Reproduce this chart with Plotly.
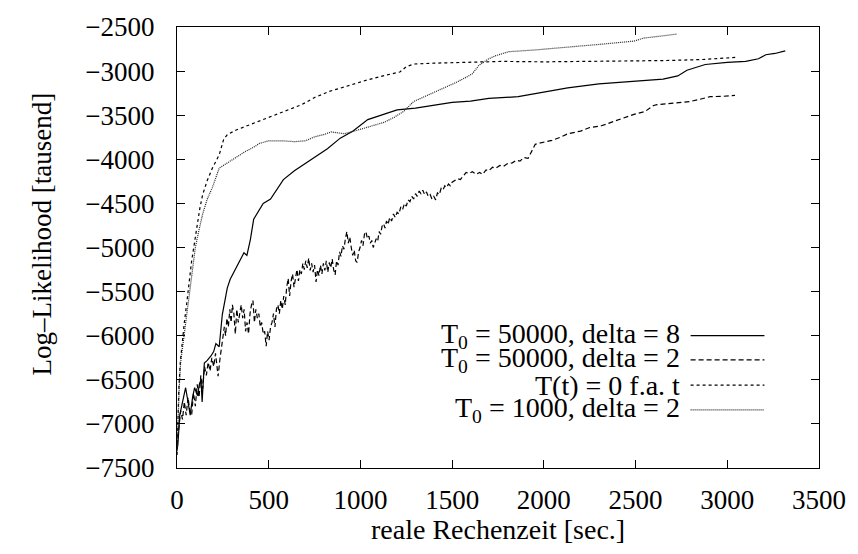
import plotly.graph_objects as go

# Simulated annealing runs: log-likelihood (thousands) over wall-clock time (s)
t_d8 = [0, 5, 15, 30, 47, 60, 72, 85, 96, 112, 122, 131, 137, 149, 165, 185, 200, 212, 230,
        247, 260, 274, 290, 311, 328, 347, 365, 381, 400, 418, 445, 470, 510, 540, 580, 640,
        700, 760, 820, 890, 960, 1040, 1110, 1200, 1300, 1400, 1500, 1600, 1700, 1860, 2000,
        2130, 2300, 2450, 2650, 2730, 2780, 2880, 3000, 3100, 3170, 3210, 3260, 3316]
ll_d8 = [-7300, -7230, -6900, -6750, -6590, -6750, -6900, -6700, -6590, -6680, -6550, -6500,
         -6750, -6310, -6280, -6230, -6180, -6090, -6125, -5760, -5600, -5460, -5360, -5280,
         -5200, -5130, -5060, -5090, -4910, -4680, -4580, -4500, -4450, -4350, -4230, -4130,
         -4050, -3960, -3880, -3760, -3680, -3550, -3500, -3440, -3420, -3390, -3355, -3340,
         -3310, -3290, -3240, -3190, -3145, -3120, -3090, -3055, -2990, -2925, -2900, -2890,
         -2860, -2815, -2800, -2770]

t_d2 = [0, 10, 20, 30, 40, 50, 60, 70, 80, 90, 100, 110, 120, 130, 140, 150, 160, 170, 180,
        190, 200, 210, 224, 235, 242,
        250, 258, 265, 272, 280, 288, 295, 302, 310, 318, 326, 334, 342, 350, 358, 366, 374,
        382, 390, 398, 406, 414, 422, 430, 438, 446, 454, 462, 470, 478, 486, 494, 502, 510,
        518, 526, 534, 542, 550, 558, 566, 574, 582, 590, 598, 606, 614, 622, 630, 638, 646,
        654, 662, 670, 678, 686, 694, 702, 710, 718, 726, 734, 742, 750, 758, 766, 774, 782,
        790, 798, 806, 814, 822, 830, 838, 846, 854, 862, 870, 878, 886, 894, 902, 910, 918,
        926, 934, 942, 950, 958, 966, 974, 982, 990, 998, 1006, 1014, 1022, 1030, 1038, 1046,
        1054, 1062, 1070, 1078, 1086, 1094, 1102, 1110, 1118, 1126, 1134, 1142, 1150, 1160,
        1170, 1180, 1190, 1200, 1210, 1220, 1230, 1240, 1250, 1260, 1270, 1280, 1290, 1300,
        1310, 1320, 1330, 1340, 1350, 1360, 1370, 1380, 1390, 1400, 1410, 1420, 1430, 1440,
        1450, 1460, 1470, 1480, 1490, 1500, 1515, 1530, 1545, 1560, 1576, 1592, 1610, 1630,
        1650, 1666, 1685, 1700, 1720, 1738, 1760, 1780, 1800, 1828, 1850, 1870, 1890, 1914,
        1935, 1953, 1990, 2044, 2090, 2131, 2200, 2250, 2314, 2400, 2491, 2550, 2598, 2617,
        2700, 2797, 2850, 2906, 2980, 3042]
ll_d2 = [-7250, -7000, -6850, -6950, -6750, -6900, -6700, -6850, -6900, -6650, -6800, -6550,
         -6700, -6450, -6600, -6350, -6450, -6300, -6400, -6250, -6350, -6200, -6460, -6250,
         -6150,
         -6050, -5900, -6000, -5800, -5900, -5700, -5850, -5650, -5750, -5980, -5700, -5850,
         -5750, -5650, -5800, -5700, -5950, -5850, -5980, -5750, -5650, -5600, -5850, -5700,
         -5800, -5750, -5900, -5850, -5980, -5950, -6120, -5950, -6050, -5900, -5850, -5750,
         -5900, -5700, -5650, -5750, -5600, -5700, -5550, -5650, -5450, -5350, -5550, -5380,
         -5300, -5450, -5350, -5250, -5380, -5250, -5300, -5180, -5250, -5150, -5230, -5120,
         -5260, -5180, -5280, -5200, -5390, -5250, -5320, -5200, -5300, -5180, -5260, -5150,
         -5280, -5170, -5230, -5130, -5250, -5310, -5150, -5200, -5050, -5100, -4980, -5020,
         -4900, -4820, -4950, -4880, -5000, -5090, -5030, -5150, -5170, -5050, -5000, -4920,
         -4980, -4850, -4820, -4900, -4870, -4950, -4920, -5000, -4950, -4900, -4930, -4820,
         -4850, -4760, -4730, -4780, -4700, -4740, -4660, -4700, -4620, -4660, -4600, -4620,
         -4540, -4570, -4500, -4530, -4460, -4480, -4420, -4450, -4390, -4420, -4360, -4390,
         -4350, -4400, -4370, -4420, -4400, -4450, -4420, -4460, -4380, -4400, -4330, -4350,
         -4300, -4320, -4280, -4300, -4260, -4240, -4220, -4230, -4190, -4150, -4160, -4140,
         -4170, -4150, -4170, -4120, -4130, -4090, -4100, -4070, -4080, -4050, -4040, -4010,
         -4020, -3980, -3990, -3900, -3830, -3810, -3785, -3750, -3710, -3680, -3640, -3620,
         -3560, -3490, -3460, -3390, -3380, -3360, -3345, -3320, -3290, -3285, -3275]

t_t0 = [0, 4, 10, 18, 28, 40, 52, 65, 80, 95, 110, 125, 140, 165, 193, 230, 255, 275, 320,
        408, 500, 590, 680, 750, 830, 912, 1037, 1130, 1215, 1250, 1290, 1400, 1576, 1775,
        2000, 2314, 2500, 2670, 2850, 2950, 3047]
ll_t0 = [-7350, -7000, -6600, -6300, -6050, -5850, -5650, -5400, -5150, -4950, -4720, -4550,
         -4400, -4240, -4100, -3950, -3770, -3720, -3670, -3600, -3520, -3450, -3380, -3300,
         -3230, -3180, -3100, -3050, -3010, -2950, -2920, -2910, -2900, -2890, -2895, -2890,
         -2885, -2880, -2870, -2855, -2845]

t_1000 = [0, 5, 12, 20, 32, 45, 60, 80, 100, 120, 140, 165, 193, 230, 274, 320, 374, 408,
          450, 500, 571, 643, 700, 751, 800, 840, 912, 967, 1020, 1075, 1130, 1183, 1237,
          1290, 1340, 1397, 1460, 1520, 1576, 1610, 1646, 1700, 1738, 1808, 1953, 2100, 2314,
          2491, 2546, 2650, 2725]
ll_1000 = [-7350, -7000, -6600, -6300, -6100, -5900, -5650, -5300, -5000, -4800, -4620, -4450,
           -4320, -4100, -4040, -3985, -3910, -3875, -3820, -3790, -3790, -3800, -3790, -3745,
           -3720, -3690, -3710, -3680, -3650, -3620, -3580, -3525, -3455, -3345, -3300, -3245,
           -3190, -3130, -3070, -3030, -2935, -2860, -2825, -2780, -2760, -2730, -2695, -2660,
           -2625, -2600, -2580]

series = [
    ("T<sub>0</sub> = 50000, delta = 8", t_d8, ll_d8, "solid", "black"),
    ("T<sub>0</sub> = 50000, delta = 2", t_d2, ll_d2, "5px,3px", "black"),
    ("T(t) = 0 f.a. t", t_t0, ll_t0, "3px,3px", "black"),
    ("T<sub>0</sub> = 1000, delta = 2", t_1000, ll_1000, "1px,1px", "#222222"),
]
for _, xs, ys, _, _ in series:
    assert len(xs) == len(ys)

FONT = "Liberation Serif"
fig = go.Figure()
for name, xs, ys, dash, col in series:
    fig.add_trace(go.Scatter(x=xs, y=ys, mode="lines", name=name, showlegend=False,
                             line=dict(color=col, width=1.2, dash=dash)))

# key in the lower right: right-aligned label with a line sample to its right
key_rows = [0.300, 0.245, 0.188, 0.132]
for (name, _, _, dash, col), ky in zip(series, key_rows):
    fig.add_annotation(xref="paper", yref="paper", x=0.786, y=ky, text=name,
                       showarrow=False, xanchor="right", yanchor="middle",
                       font=dict(family=FONT, size=28, color="black"))
    fig.add_shape(type="line", xref="paper", yref="paper", x0=0.8, x1=0.915,
                  y0=ky, y1=ky, line=dict(color=col, width=1.2, dash=dash))

axis_common = dict(showline=True, linecolor="black", linewidth=1, mirror="ticks",
                   ticks="inside", ticklen=8, tickwidth=1, tickcolor="black",
                   showgrid=False, zeroline=False, dtick=500,
                   tickfont=dict(family=FONT, size=27, color="black"))
fig.update_xaxes(range=[0, 3500], tick0=0, ticklabelstandoff=8, **axis_common)
fig.update_yaxes(range=[-7500, -2500], tick0=-7500, ticklabelstandoff=16, **axis_common)

fig.add_annotation(xref="paper", yref="paper", x=0.5, y=-0.14, yanchor="middle",
                   text="reale Rechenzeit [sec.]", showarrow=False,
                   font=dict(family=FONT, size=28, color="black"))
fig.add_annotation(xref="paper", yref="paper", x=-0.21, y=0.53, textangle=-90,
                   text="Log–Likelihood [tausend]", showarrow=False,
                   xanchor="center", yanchor="middle",
                   font=dict(family=FONT, size=27, color="black"))

fig.update_layout(width=858, height=554, margin=dict(l=177, r=31, t=16, b=86),
                  plot_bgcolor="white", paper_bgcolor="white")
fig.write_html("out.html")
